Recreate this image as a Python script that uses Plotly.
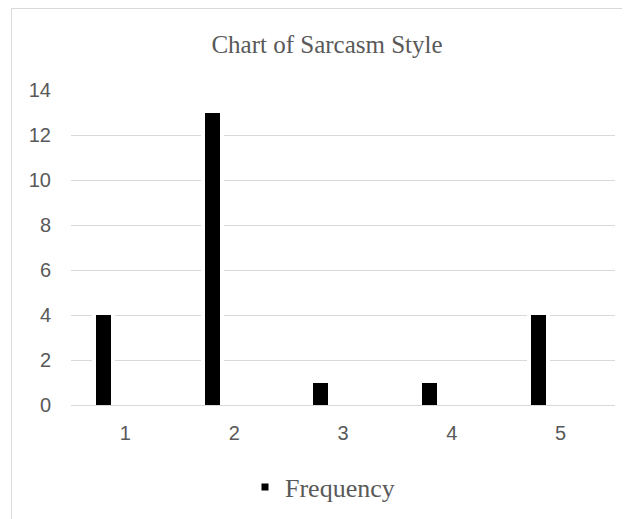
import plotly.graph_objects as go

categories = ["1", "2", "3", "4", "5"]
frequency = [4, 13, 1, 1, 4]
y_ticks = [0, 2, 4, 6, 8, 10, 12, 14]

# page body adds an 8px offset; figure coordinates below are in figure pixels
W, H = 622, 511
L, R, T, B = 63, 15, 82, 114
pw, ph = W - L - R, H - T - B

def px_x(x):
    return (x - L) / pw

def px_y(y):
    return (H - B - y) / ph

bar_width = 0.138
bar_offset = -0.273

fig = go.Figure()
# white halo behind the bars (breaks the gridlines around each bar)
fig.add_trace(go.Bar(
    x=categories, y=frequency, name="Frequency", showlegend=False, hoverinfo="skip",
    marker=dict(color="white", line=dict(color="white", width=8)),
    width=bar_width, offset=bar_offset,
))
fig.add_trace(go.Bar(
    x=categories, y=frequency, name="Frequency", showlegend=False,
    marker=dict(color="black", line=dict(width=0)),
    width=bar_width, offset=bar_offset,
))
# legend key (small square like the original)
fig.add_trace(go.Scatter(
    x=[None], y=[None], mode="markers", name="Frequency",
    marker=dict(symbol="square", size=7, color="black"),
))

fig.update_layout(
    width=W, height=H,
    margin=dict(l=L, r=R, t=T, b=B, autoexpand=False),
    paper_bgcolor="white", plot_bgcolor="white",
    barmode="overlay",
    title=dict(text="Chart of Sarcasm Style", x=319 / W, xanchor="center",
               y=1 - 36 / H, yanchor="middle",
               font=dict(family="Liberation Serif", size=25, color="#595959")),
    showlegend=True,
    legend=dict(orientation="h", x=px_x(237), xanchor="left", y=px_y(479), yanchor="middle",
                font=dict(family="Liberation Serif", size=26, color="#595959"),
                itemwidth=30),
    bargap=0,
    xaxis=dict(type="category", showgrid=False, showline=True, linecolor="#d9d9d9",
               linewidth=1, ticks="", ticklabelstandoff=10,
               tickfont=dict(family="Liberation Sans", size=20, color="#595959")),
    yaxis=dict(range=[0, 14], tickvals=y_ticks, showgrid=True, gridcolor="#d9d9d9",
               gridwidth=1, zeroline=False, showline=False, ticks="",
               ticklabelstandoff=19,
               tickfont=dict(family="Liberation Sans", size=20, color="#595959")),
    shapes=[dict(type="rect", xref="paper", yref="paper",
                 x0=px_x(3.5), x1=px_x(700), y0=px_y(600), y1=px_y(0.5),
                 line=dict(color="#d9d9d9", width=1), fillcolor="rgba(0,0,0,0)",
                 layer="below")],
)

fig.write_html("out.html")
